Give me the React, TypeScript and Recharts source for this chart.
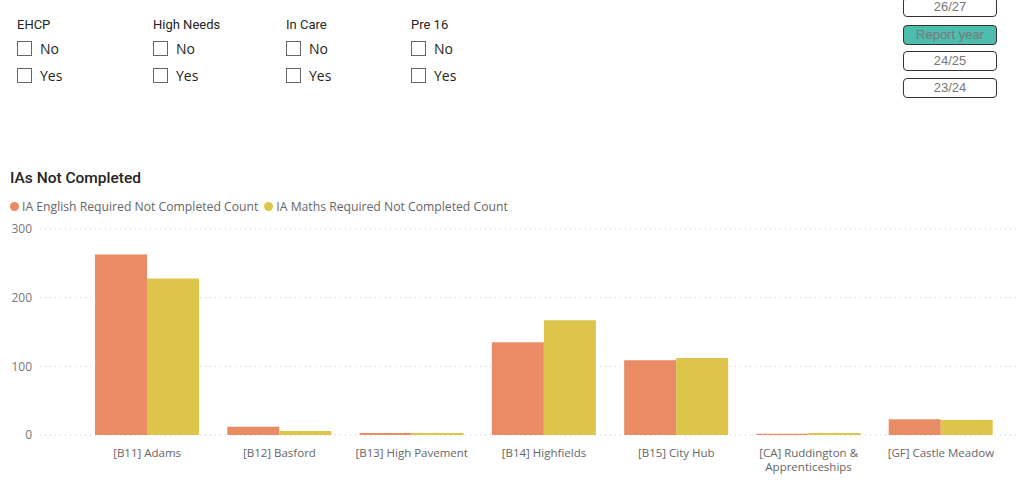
import { Bar, BarChart, CartesianGrid, XAxis, YAxis } from 'recharts';

// Chart data
const colleges = [
  '[B11] Adams',
  '[B12] Basford',
  '[B13] High Pavement',
  '[B14] Highfields',
  '[B15] City Hub',
  '[CA] Ruddington & Apprenticeships',
  '[GF] Castle Meadow',
];
const englishNotCompleted = [263, 12, 3, 135, 109, 2, 23];
const mathsNotCompleted = [228, 6, 3, 167, 112, 3, 22];
const yTicks = [0, 100, 200, 300];

const seriesNames = ['IA English Required Not Completed Count', 'IA Maths Required Not Completed Count'];
const seriesColors = ['#E98C66', '#DDC44A'];

const slicerTitles = ['EHCP', 'High Needs', 'In Care', 'Pre 16'];
const slicerOptions = ['No', 'Yes'];
const yearButtons = ['26/27', 'Report year', '24/25', '23/24'];
const selectedYear = 'Report year';

const data = colleges.map((name, i) => ({
  name,
  english: englishNotCompleted[i],
  maths: mathsNotCompleted[i],
}));

const UI_FONT = '"Open Sans", "Noto Sans", sans-serif';
const HEAD_FONT = 'Roboto, "DejaVu Sans", sans-serif';

const slicerLeft = [17, 153, 286, 411];
const buttonTops = [-3, 25, 51, 78];

// break long labels at the last space that keeps the first line short
function wrapLabel(label: string, maxChars = 20): string[] {
  if (label.length <= maxChars + 2) return [label];
  const cut = label.lastIndexOf(' ', maxChars);
  if (cut <= 0) return [label];
  return [label.slice(0, cut), label.slice(cut + 1)];
}

function CollegeTick(props: any) {
  const { x, y, payload } = props;
  const lines = wrapLabel(String(payload.value));
  return (
    <text x={x} y={y + 14} textAnchor="middle" fill="#666" fontSize={11.5} fontFamily={UI_FONT}>
      {lines.map((line, i) => (
        <tspan key={i} x={x} dy={i === 0 ? 0 : 14}>
          {line}
        </tspan>
      ))}
    </text>
  );
}

export default function App() {
  return (
    <div style={{ position: 'absolute', left: 0, top: 0, width: 1024, height: 497, background: '#fff', overflow: 'hidden' }}>
      {slicerTitles.map((title, i) => (
        <div key={title} style={{ position: 'absolute', left: slicerLeft[i], top: 16 }}>
          <div style={{ fontFamily: HEAD_FONT, fontSize: 13, color: '#252423', lineHeight: '18px' }}>{title}</div>
          {slicerOptions.map((opt, j) => (
            <div key={opt} style={{ position: 'absolute', left: 0, top: 23 + j * 27, display: 'flex', alignItems: 'center', whiteSpace: 'nowrap' }}>
              <div style={{ width: 13, height: 13, border: '1px solid #666', background: '#fff' }} />
              <span style={{ marginLeft: 8, fontFamily: UI_FONT, fontSize: 14, color: '#252423' }}>{opt}</span>
            </div>
          ))}
        </div>
      ))}

      {yearButtons.map((label, i) => (
        <div
          key={label}
          style={{
            position: 'absolute',
            left: 903,
            top: buttonTops[i],
            width: 92,
            height: 18,
            border: '1.5px solid #333',
            borderRadius: 4,
            background: label === selectedYear ? '#4DBDAD' : '#fff',
            color: '#777',
            fontFamily: 'Liberation Sans, Arial, sans-serif',
            fontSize: 13,
            lineHeight: '18px',
            textAlign: 'center',
          }}
        >
          {label}
        </div>
      ))}

      <div style={{ position: 'absolute', left: 10, top: 169, fontFamily: HEAD_FONT, fontSize: 15.5, fontWeight: 500, color: '#252423' }}>
        IAs Not Completed
      </div>
      <div style={{ position: 'absolute', left: 10, top: 198, display: 'flex', alignItems: 'center', fontFamily: UI_FONT, fontSize: 12.2, color: '#666', whiteSpace: 'nowrap' }}>
        {seriesNames.map((name, i) => (
          <span key={name} style={{ display: 'flex', alignItems: 'center', marginRight: 6 }}>
            <span style={{ width: 9, height: 9, borderRadius: '50%', background: seriesColors[i], marginRight: 3 }} />
            {name}
          </span>
        ))}
      </div>

      <div style={{ position: 'absolute', left: 0, top: 220 }}>
        <BarChart
          width={1024}
          height={277}
          data={data}
          margin={{ top: 9, right: 4, left: 0, bottom: 0 }}
          barCategoryGap="10.6%"
          barGap={0}
        >
          <CartesianGrid vertical={false} stroke="#c8c8c8" strokeDasharray="1 4" />
          <XAxis
            dataKey="name"
            interval={0}
            height={62}
            axisLine={false}
            tickLine={false}
            padding={{ left: 41, right: 13 }}
            tick={<CollegeTick />}
          />
          <YAxis
            domain={[0, 300]}
            ticks={yTicks}
            width={40}
            axisLine={false}
            tickLine={false}
            tick={{ fill: '#777', fontSize: 12, fontFamily: UI_FONT }}
          />
          <Bar dataKey="english" name={seriesNames[0]} fill={seriesColors[0]} isAnimationActive={false} />
          <Bar dataKey="maths" name={seriesNames[1]} fill={seriesColors[1]} isAnimationActive={false} />
        </BarChart>
      </div>
    </div>
  );
}
